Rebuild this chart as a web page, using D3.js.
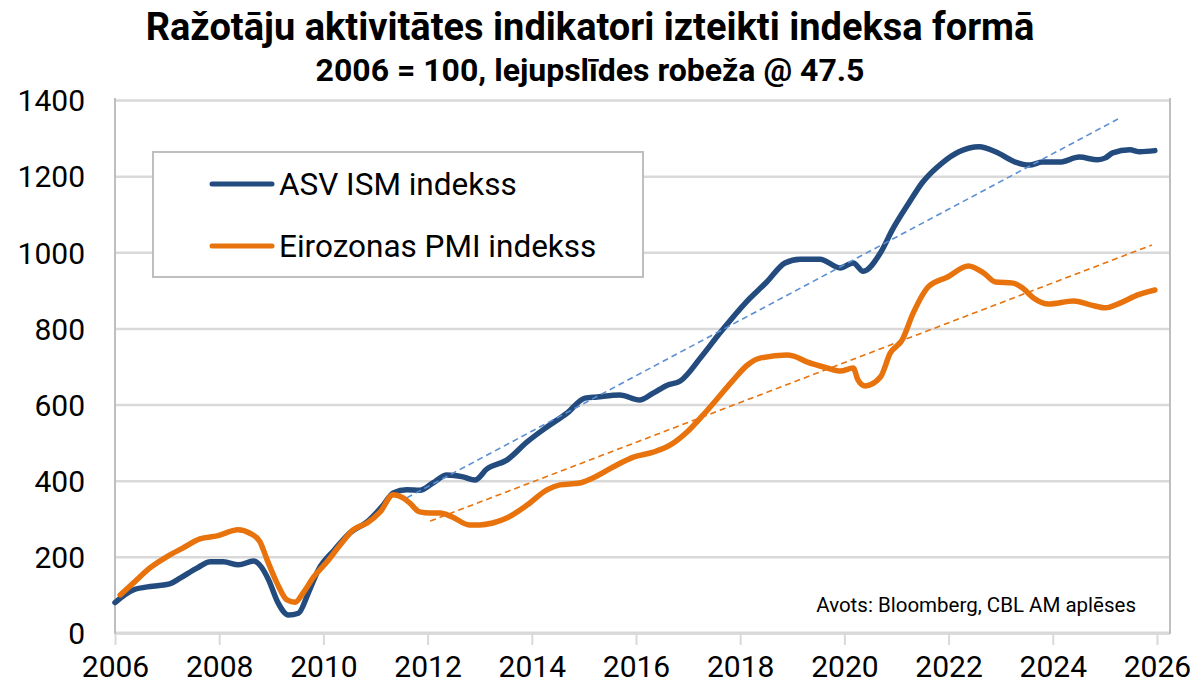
<!DOCTYPE html>
<html>
<head>
<meta charset="utf-8">
<script src="https://cdn.jsdelivr.net/npm/d3@7"></script>
<style>
  html, body { margin: 0; padding: 0; background: #fff; }
  svg { display: block; font-family: Roboto, "Noto Sans", sans-serif; }
</style>
</head>
<body>
<svg id="chart" width="1199" height="689"></svg>
<script>
// ---- data ----
const titleText = "Ražotāju aktivitātes indikatori izteikti indeksa formā";
const subtitleText = "2006 = 100, lejupslīdes robeža @ 47.5";
const sourceText = "Avots: Bloomberg, CBL AM aplēses";
const seriesNames = ["ASV ISM indekss", "Eirozonas PMI indekss"];
const xTickYears = [2006, 2008, 2010, 2012, 2014, 2016, 2018, 2020, 2022, 2024, 2026];
const yTickValues = [0, 200, 400, 600, 800, 1000, 1200, 1400];

const usYears = [2006.00, 2006.35, 2006.72, 2007.05, 2007.25, 2007.58, 2007.83, 2008.08, 2008.37, 2008.66,
  2008.80, 2008.95, 2009.13, 2009.33, 2009.52, 2009.71, 2009.90, 2010.21, 2010.51, 2010.84,
  2011.15, 2011.34, 2011.60, 2011.85, 2012.10, 2012.37, 2012.68, 2012.91, 2013.14, 2013.52,
  2013.91, 2014.29, 2014.68, 2015.02, 2015.25, 2015.69, 2016.07, 2016.33, 2016.60, 2016.85,
  2017.25, 2017.61, 2018.12, 2018.51, 2018.86, 2019.15, 2019.53, 2019.92, 2020.17, 2020.36,
  2020.69, 2020.92, 2021.24, 2021.49, 2021.88, 2022.20, 2022.59, 2022.90, 2023.28, 2023.55,
  2023.80, 2024.13, 2024.51, 2024.86, 2025.01, 2025.15, 2025.48, 2025.67, 2025.96];
const usValues = [80, 113, 123, 129, 144, 171, 187, 187, 179, 189,
  175, 139, 79, 47, 52, 105, 165, 218, 263, 292,
  336, 368, 376, 375, 394, 415, 410, 402, 431, 454,
  502, 541, 578, 617, 620, 625, 612, 630, 651, 662,
  725, 788, 870, 922, 972, 982, 982, 959, 972, 950,
  998, 1059, 1130, 1182, 1235, 1264, 1277, 1264, 1237, 1229,
  1237, 1237, 1250, 1243, 1248, 1261, 1269, 1264, 1267];

const euYears = [2006.10, 2006.35, 2006.67, 2006.99, 2007.30, 2007.63, 2007.96, 2008.36, 2008.59, 2008.78,
  2008.92, 2009.11, 2009.30, 2009.46, 2009.61, 2009.81, 2010.07, 2010.32, 2010.57, 2010.84,
  2011.09, 2011.34, 2011.53, 2011.66, 2011.85, 2012.05, 2012.24, 2012.47, 2012.80, 2013.00,
  2013.25, 2013.52, 2013.91, 2014.29, 2014.54, 2014.92, 2015.17, 2015.56, 2015.95, 2016.33,
  2016.66, 2016.98, 2017.29, 2017.62, 2017.87, 2018.14, 2018.38, 2018.90, 2019.01, 2019.28,
  2019.67, 2019.92, 2020.17, 2020.26, 2020.40, 2020.69, 2020.88, 2021.11, 2021.32, 2021.61,
  2021.98, 2022.38, 2022.67, 2022.90, 2023.24, 2023.42, 2023.63, 2023.92, 2024.40, 2024.72,
  2025.01, 2025.30, 2025.63, 2025.96];
const euValues = [100, 131, 171, 200, 223, 247, 255, 271, 262, 240,
  192, 131, 87, 81, 105, 147, 187, 231, 271, 289,
  318, 363, 355, 341, 318, 315, 315, 305, 284, 284,
  289, 302, 336, 376, 389, 394, 407, 436, 462, 475,
  494, 528, 573, 625, 665, 704, 722, 730, 728, 712,
  696, 688, 696, 665, 649, 672, 735, 770, 840, 909,
  935, 964, 946, 922, 919, 906, 880, 864, 872, 862,
  854, 867, 888, 901];

// trend line endpoints
const usTrendYears = [2011.6, 2025.25];
const usTrendValues = [355, 1350];
const euTrendYears = [2012.05, 2025.9];
const euTrendValues = [294, 1019];

// ---- layout ----
const W = 1199, H = 689;
const plotLeft = 115, plotRight = 1170, plotTop = 100, plotBottom = 633;
const blue = "#234B7E", orange = "#E8720C";
const blueTrend = "#5B8FD3", orangeTrend = "#E8720C";
const gridColor = "#D9D9D9", axisColor = "#BFBFBF";

const svg = d3.select("#chart");

const x = d3.scaleLinear().domain([2006, 2026.25]).range([plotLeft, plotRight]);
const y = d3.scaleLinear().domain([0, 1400]).range([plotBottom, plotTop]);

// gridlines + y labels
const yAxis = d3.axisLeft(y).tickValues(yTickValues).tickSize(-(plotRight - plotLeft)).tickPadding(30)
  .tickFormat(d3.format("d"));
const gy = svg.append("g").attr("transform", `translate(${plotLeft},0)`).call(yAxis);
gy.select(".domain").remove();
gy.selectAll(".tick line").attr("stroke", gridColor).attr("stroke-width", 2.5);
gy.selectAll(".tick text").attr("font-size", 30).attr("fill", "#000")
  .attr("font-family", "Roboto, sans-serif").attr("x", -30).attr("dy", "0.36em");

// x axis
const xAxis = d3.axisBottom(x).tickValues(xTickYears).tickSize(12).tickPadding(18)
  .tickFormat(d3.format("d"));
const gx = svg.append("g").attr("transform", `translate(0,${plotBottom})`).call(xAxis);
gx.select(".domain").remove();
gx.selectAll(".tick line").attr("stroke", gridColor).attr("stroke-width", 2);
gx.selectAll(".tick text").attr("font-size", 30).attr("fill", "#000")
  .attr("font-family", "Roboto, sans-serif").attr("y", 23).attr("dy", "0.71em");

// plot frame (left, right, bottom)
svg.append("line").attr("x1", plotLeft).attr("x2", plotRight).attr("y1", plotBottom).attr("y2", plotBottom)
  .attr("stroke", gridColor).attr("stroke-width", 3);
svg.append("line").attr("x1", plotLeft).attr("x2", plotLeft).attr("y1", plotTop - 2).attr("y2", plotBottom + 1)
  .attr("stroke", axisColor).attr("stroke-width", 2);
svg.append("line").attr("x1", plotRight).attr("x2", plotRight).attr("y1", plotTop - 2).attr("y2", plotBottom + 1)
  .attr("stroke", axisColor).attr("stroke-width", 2);

// lines
const line = d3.line().x(d => x(d[0])).y(d => y(d[1])).curve(d3.curveMonotoneX);
const usData = usYears.map((t, i) => [t, usValues[i]]);
const euData = euYears.map((t, i) => [t, euValues[i]]);

svg.append("path").datum(usData).attr("d", line).attr("fill", "none")
  .attr("stroke", blue).attr("stroke-width", 5.5).attr("stroke-linejoin", "round").attr("stroke-linecap", "round");
svg.append("path").datum(euData).attr("d", line).attr("fill", "none")
  .attr("stroke", orange).attr("stroke-width", 5.5).attr("stroke-linejoin", "round").attr("stroke-linecap", "round");

// trend lines
const tline = d3.line().x(d => x(d[0])).y(d => y(d[1]));
svg.append("path").datum(usTrendYears.map((t, i) => [t, usTrendValues[i]])).attr("d", tline)
  .attr("fill", "none").attr("stroke", blueTrend).attr("stroke-width", 1.6).attr("stroke-dasharray", "6,4");
svg.append("path").datum(euTrendYears.map((t, i) => [t, euTrendValues[i]])).attr("d", tline)
  .attr("fill", "none").attr("stroke", orangeTrend).attr("stroke-width", 1.6).attr("stroke-dasharray", "6,4");

// legend
const lg = svg.append("g");
lg.append("rect").attr("x", 153).attr("y", 152).attr("width", 490).attr("height", 125)
  .attr("fill", "#fff").attr("stroke", axisColor).attr("stroke-width", 2);
const legendColors = [blue, orange];
seriesNames.forEach((name, i) => {
  const ly = 184 + i * 62;
  lg.append("line").attr("x1", 212).attr("x2", 272).attr("y1", ly).attr("y2", ly)
    .attr("stroke", legendColors[i]).attr("stroke-width", 5).attr("stroke-linecap", "round");
  lg.append("text").attr("x", 279).attr("y", ly).attr("dy", "0.36em")
    .attr("font-size", 31.5).attr("fill", "#000").text(name);
});

// titles
svg.append("text").attr("x", 590).attr("y", 40).attr("text-anchor", "middle")
  .attr("font-size", 38).attr("font-weight", "bold").attr("fill", "#000").text(titleText);
svg.append("text").attr("x", 590).attr("y", 81).attr("text-anchor", "middle")
  .attr("font-size", 32).attr("font-weight", "bold").attr("fill", "#000").text(subtitleText);

// source
svg.append("text").attr("x", 1136).attr("y", 612).attr("text-anchor", "end")
  .attr("font-size", 20.5).attr("fill", "#000").text(sourceText);
</script>
</body>
</html>
